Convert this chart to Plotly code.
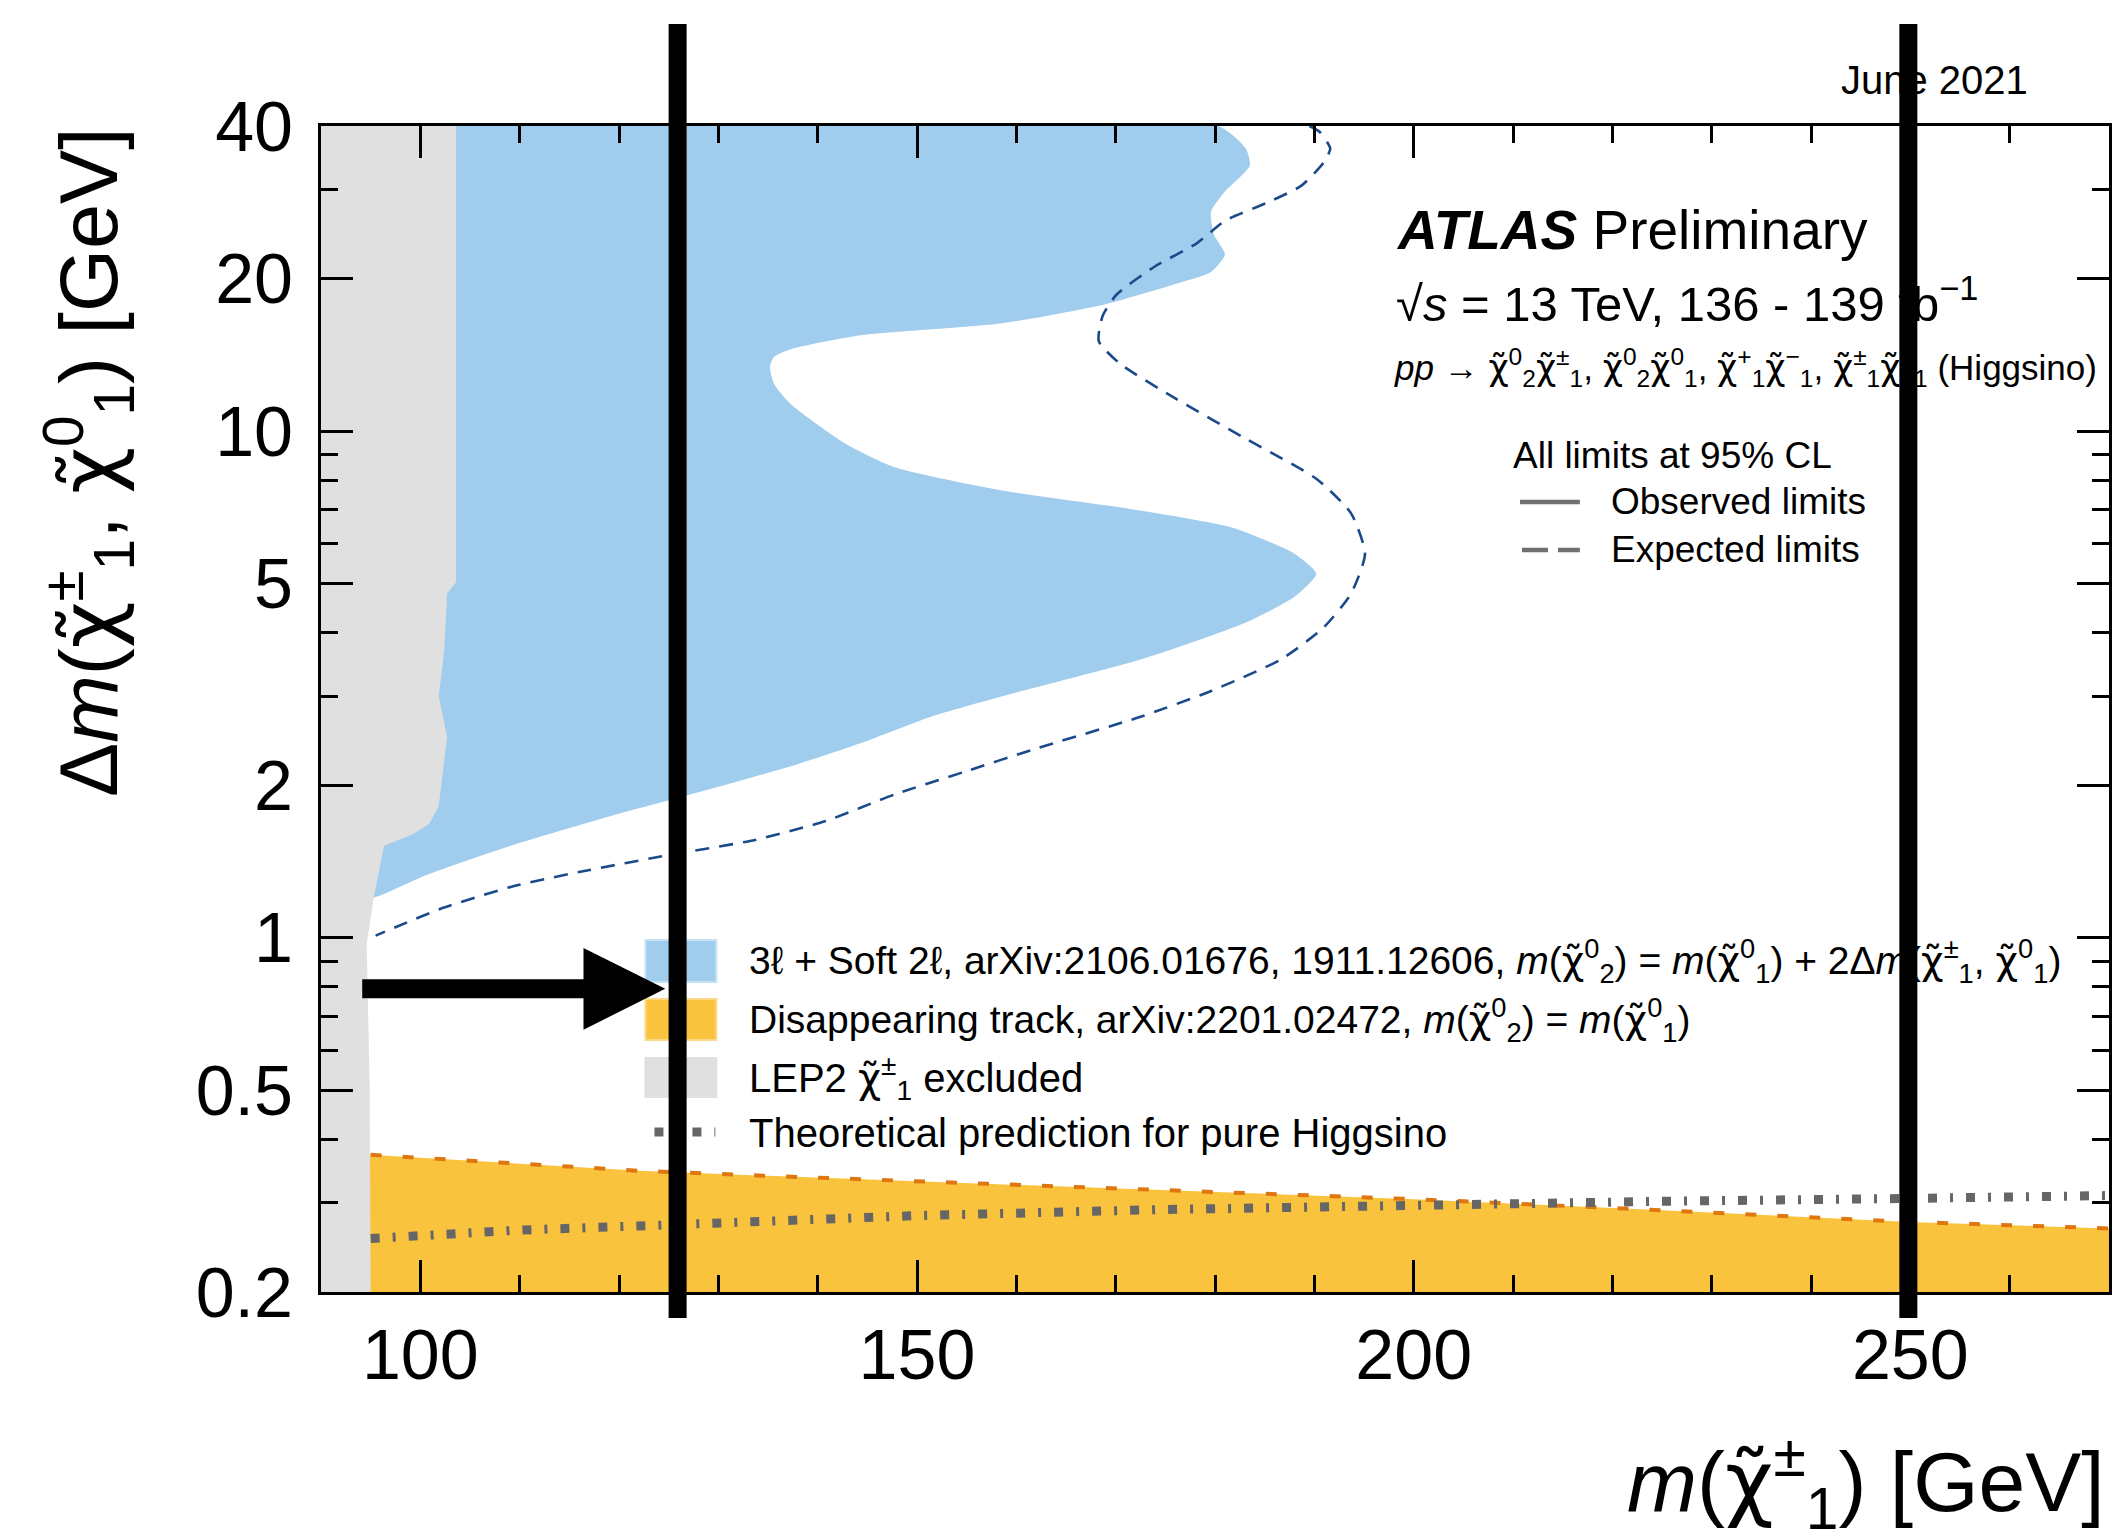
import math
import plotly.graph_objects as go

W, H = 2122, 1540
ML, MR, MT, MB = 321, 10, 126, 248
PW, PH = W - ML - MR, H - MT - MB
FONT = "Liberation Sans, Arial, Helvetica, sans-serif"

# ---------------- data ----------------
x_range = [90, 270]
y_range = [0.2, 40]

# 3l + soft 2l observed exclusion contour (top -> bottom)
obs_x = [180.3, 183.1, 183.5, 181.0, 179.6, 179.9, 181.0, 179.6, 176.0, 169.0, 158.4,
         144.3, 137.3, 135.6, 135.2, 135.6, 137.3, 142.9, 147.8, 158.4, 172.5, 181.7,
         188.0, 190.2, 188.0, 183.1, 172.5, 158.4, 151.4, 144.3, 137.3, 126.0, 119.6,
         109.1, 100.6, 95.3]
obs_y = [40.0, 36.1, 33.4, 29.7, 27.1, 24.4, 22.3, 20.6, 19.5, 17.8, 16.3,
         15.45, 14.5, 14.0, 13.4, 12.4, 11.3, 9.42, 8.48, 7.64, 6.97, 6.45,
         5.73, 5.23, 4.71, 4.19, 3.54, 2.99, 2.73, 2.42, 2.18, 1.89, 1.75,
         1.52, 1.33, 1.20]

# 3l + soft 2l expected contour (top -> bottom)
exp_x = [189.5, 190.5, 191.6, 190.9, 188.7, 185.2, 181.0, 178.2, 173.9, 170.1, 168.7,
         168.3, 170.4, 176.0, 183.1, 190.2, 193.7, 195.1, 193.7, 190.9, 186.6, 179.6,
         172.5, 161.9, 154.9, 147.8, 140.8, 133.7, 125.3, 116.1, 109.1, 102.0, 95.5]
exp_y = [40.0, 39.0, 36.1, 33.8, 30.5, 28.2, 26.0, 23.5, 21.1, 18.6, 16.9,
         15.05, 13.6, 11.6, 9.66, 8.05, 6.88, 5.73, 4.78, 4.09, 3.54, 3.07,
         2.73, 2.36, 2.13, 1.92, 1.70, 1.56, 1.46, 1.35, 1.26, 1.14, 1.01]

# LEP2 chargino exclusion boundary (bottom -> top)
lep_x = [95.0, 94.9, 94.6, 95.3, 96.35, 99.2, 100.9, 101.85, 102.7, 101.85, 102.4, 102.7, 103.6, 103.6]
lep_y = [0.2, 0.51, 0.97, 1.20, 1.52, 1.60, 1.68, 1.82, 2.49, 2.99, 3.68, 4.78, 5.03, 40.0]

# Disappearing track exclusion upper edge
dt_x = [95, 100, 110, 122, 135, 150, 175, 200, 225, 250, 270]
dt_y = [0.373, 0.368, 0.358, 0.347, 0.339, 0.331, 0.318, 0.305, 0.290, 0.275, 0.267]

# Theoretical prediction for pure Higgsino
hig_x = [95, 100, 110, 122, 135, 150, 175, 200, 225, 250, 270]
hig_y = [0.255, 0.259, 0.265, 0.270, 0.277, 0.283, 0.291, 0.297, 0.302, 0.306, 0.310]

x_ticks = [100, 150, 200, 250]
x_minor = [110, 120, 130, 140, 160, 170, 180, 190, 210, 220, 230, 240, 260]
y_ticks = [0.2, 0.5, 1, 2, 5, 10, 20, 40]
y_ticklabels = ["0.2", "0.5", "1", "2", "5", "10", "20", "40"]
y_minor = [0.3, 0.4, 0.6, 0.7, 0.8, 0.9, 3, 4, 6, 7, 8, 9, 30]

marker_lines_x = [125.9, 249.8]
arrow_y = 0.793
arrow_x = [94.0, 124.65]

C_BLUE = "#a0cdee"
C_ORANGE = "#f9c33d"
C_GRAY = "#e0e0e0"
C_EXP = "#1a4a8a"
C_DTLINE = "#e07610"
C_HIG = "#666666"

Y_FLOOR = 0.15
SMOOTH = 0.6

fig = go.Figure()

# Disappearing track region
fig.add_trace(go.Scatter(
    x=[x_range[0]] + dt_x + [dt_x[-1], x_range[0]],
    y=[dt_y[0]] + dt_y + [Y_FLOOR, Y_FLOOR],
    fill="toself", fillcolor=C_ORANGE, mode="lines", line=dict(width=0),
    showlegend=False, hoverinfo="skip"))

# 3l + soft 2l observed region
fig.add_trace(go.Scatter(
    x=[x_range[0]] + obs_x + [x_range[0] + 2, x_range[0]],
    y=[obs_y[0]] + obs_y + [obs_y[-1], obs_y[-1]],
    fill="toself", fillcolor=C_BLUE, mode="lines",
    line=dict(width=0, shape="spline", smoothing=SMOOTH),
    showlegend=False, hoverinfo="skip"))

# LEP region
fig.add_trace(go.Scatter(
    x=[x_range[0], lep_x[0]] + lep_x + [x_range[0]],
    y=[Y_FLOOR, Y_FLOOR] + lep_y + [lep_y[-1]],
    fill="toself", fillcolor=C_GRAY, mode="lines", line=dict(width=0),
    showlegend=False, hoverinfo="skip"))

# expected (dashed) contour
fig.add_trace(go.Scatter(x=exp_x, y=exp_y, mode="lines",
                         line=dict(color=C_EXP, width=2.6, dash="14px,10px",
                                   shape="spline", smoothing=SMOOTH),
                         showlegend=False, hoverinfo="skip"))
# disappearing track expected dashed edge
fig.add_trace(go.Scatter(x=dt_x, y=dt_y, mode="lines",
                         line=dict(color=C_DTLINE, width=4, dash="11px,21px"),
                         showlegend=False, hoverinfo="skip"))
# Higgsino prediction
fig.add_trace(go.Scatter(x=hig_x, y=hig_y, mode="lines",
                         line=dict(color=C_HIG, width=9, dash="9px,13px,3px,13px"),
                         showlegend=False, hoverinfo="skip"))


def px_x(px):
    return (px - ML) / PW


def px_y(py):
    return (MT + PH - py) / PH


annotations = []


def ann(text, px, py, size, xanchor="left", yanchor="middle", **kw):
    annotations.append(dict(text=text, x=px_x(px), y=px_y(py), xref="paper", yref="paper",
                            xanchor=xanchor, yanchor=yanchor, showarrow=False,
                            font=dict(family=FONT, size=size, color="black"), **kw))


chi = "<span style=\"font-family:'DejaVu Sans'\">χ̃</span>"


def cs(sup, sub):
    return f"{chi}<sup>{sup}</sup><sub>{sub}</sub>"


ann("June 2021", 1937, 80, 40, xanchor="center")
ann("<b><i>ATLAS</i></b> Preliminary", 1396, 230, 55)
ann("√<i>s</i> = 13 TeV, 136 - 139 fb<sup>−1</sup>", 1396, 300, 49)
ann(f"<i>pp</i> → {cs('0', '2')}{cs('±', '1')}, {cs('0', '2')}{cs('0', '1')}, "
    f"{cs('+', '1')}{cs('−', '1')}, {cs('±', '1')}{cs('0', '1')} (Higgsino)", 1394, 367, 35)
ann("All limits at 95% CL", 1513, 455, 37)
ann("Observed limits", 1611, 502, 37)
ann("Expected limits", 1611, 549, 37)

leg_texts = [
    f"3ℓ + Soft 2ℓ, arXiv:2106.01676, 1911.12606, <i>m</i>({cs('0', '2')}) = "
    f"<i>m</i>({cs('0', '1')}) + 2Δ<i>m</i>({cs('±', '1')}, {cs('0', '1')})",
    f"Disappearing track, arXiv:2201.02472, <i>m</i>({cs('0', '2')}) = <i>m</i>({cs('0', '1')})",
    f"LEP2 {cs('±', '1')} excluded",
    "Theoretical prediction for pure Higgsino",
]
leg_rows = [961, 1020, 1078, 1133]
leg_sizes = [39, 39, 40, 40]
for t, r, s in zip(leg_texts, leg_rows, leg_sizes):
    ann(t, 748, r, s)

# axis titles
ann(f"<i>m</i>({cs('±', '1')}) [GeV]", 2110, 1482, 84, xanchor="right")
ann(f"Δ<i>m</i>({cs('±', '1')}, {cs('0', '1')}) [GeV]", 88, 126, 81,
    xanchor="center", yanchor="top", textangle=-90)

# arrow
annotations.append(dict(x=arrow_x[1], y=math.log10(arrow_y), xref="x", yref="y",
                        ax=arrow_x[0], ay=math.log10(arrow_y), axref="x", ayref="y",
                        text="", showarrow=True, arrowhead=2, arrowsize=0.86, arrowwidth=19,
                        arrowcolor="black", standoff=0, startstandoff=0))

shapes = []
# legend boxes
box_rows = [(940, 982, C_BLUE, "#c6e2f6"), (999, 1040, C_ORANGE, "#fcd889"), (1058, 1097, C_GRAY, C_GRAY)]
for y0, y1, fc, lc in box_rows:
    shapes.append(dict(type="rect", xref="paper", yref="paper",
                       x0=px_x(646), x1=px_x(717), y0=px_y(y1), y1=px_y(y0),
                       fillcolor=fc, line=dict(color=lc, width=2)))
shapes.append(dict(type="line", xref="paper", yref="paper", x0=px_x(655), x1=px_x(716),
                   y0=px_y(1132), y1=px_y(1132),
                   line=dict(color=C_HIG, width=9, dash="9px,13px,3px,13px")))
# Observed / Expected samples
shapes.append(dict(type="line", xref="paper", yref="paper", x0=px_x(1522), x1=px_x(1582),
                   y0=px_y(502), y1=px_y(502), line=dict(color="#707070", width=4.5)))
shapes.append(dict(type="line", xref="paper", yref="paper", x0=px_x(1524), x1=px_x(1582),
                   y0=px_y(550), y1=px_y(550), line=dict(color="#707070", width=4.5, dash="26px,10px")))
# thick vertical marker lines
for mx in marker_lines_x:
    shapes.append(dict(type="line", xref="x", yref="paper", x0=mx, x1=mx,
                       y0=px_y(1318), y1=px_y(24), line=dict(color="black", width=18)))

axis_common = dict(showline=True, linecolor="black", linewidth=3, mirror="ticks",
                   ticks="inside", ticklen=32, tickwidth=2.5, tickcolor="black",
                   showgrid=False, zeroline=False,
                   tickfont=dict(family=FONT, size=70, color="black"))

fig.update_layout(
    width=W, height=H,
    margin=dict(l=ML, r=MR, t=MT, b=MB, pad=0),
    paper_bgcolor="white", plot_bgcolor="white",
    showlegend=False,
    xaxis=dict(range=x_range, tickmode="array", tickvals=x_ticks,
               ticktext=[str(v) for v in x_ticks], ticklabelstandoff=0,
               minor=dict(tickmode="array", tickvals=x_minor, ticklen=17, tickwidth=2.5,
                          ticks="inside", tickcolor="black"),
               **axis_common),
    yaxis=dict(type="log", range=[math.log10(y_range[0]), math.log10(y_range[1])],
               tickmode="array", tickvals=y_ticks, ticktext=y_ticklabels, ticklabelstandoff=11,
               minor=dict(tickmode="array", tickvals=y_minor, ticklen=17, tickwidth=2.5,
                          ticks="inside", tickcolor="black"),
               **axis_common),
    annotations=annotations,
    shapes=shapes,
)

fig.write_html("out.html")
